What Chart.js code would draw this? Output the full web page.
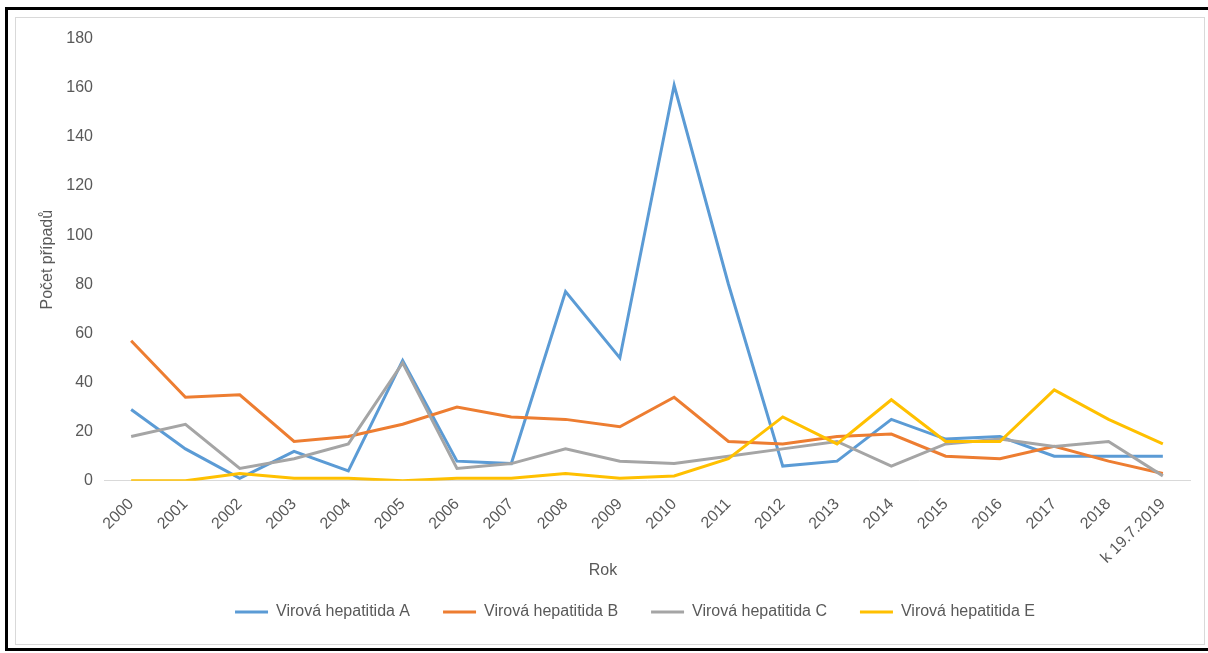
<!DOCTYPE html>
<html>
<head>
<meta charset="utf-8">
<script src="https://cdn.jsdelivr.net/npm/chart.js@4/dist/chart.umd.min.js"></script>
<style>
  html, body { margin: 0; padding: 0; background: #ffffff; }
  body { width: 1208px; height: 653px; position: relative; overflow: hidden; }
  #frame {
    position: absolute; left: 5px; top: 7px; width: 1210px; height: 638px;
    border: 3px solid #000000; box-sizing: content-box;
  }
  #panel {
    position: absolute; left: 15px; top: 17px; width: 1188px; height: 626px;
    border: 1px solid #d9d9d9; background: #ffffff;
  }
  #chart { display: block; }
</style>
</head>
<body>
<div id="frame"></div>
<div id="panel"><canvas id="chart" width="1188" height="626"></canvas></div>
<script>
// Reported cases of viral hepatitis per year
const years = ['2000', '2001', '2002', '2003', '2004', '2005', '2006', '2007', '2008', '2009',
               '2010', '2011', '2012', '2013', '2014', '2015', '2016', '2017', '2018', 'k 19.7.2019'];
const hepatitisA = [29, 13, 1, 12, 4, 49, 8, 7, 77, 50, 161, 80, 6, 8, 25, 17, 18, 10, 10, 10];
const hepatitisB = [57, 34, 35, 16, 18, 23, 30, 26, 25, 22, 34, 16, 15, 18, 19, 10, 9, 14, 8, 3];
const hepatitisC = [18, 23, 5, 9, 15, 48, 5, 7, 13, 8, 7, 10, 13, 16, 6, 15, 17, 14, 16, 2];
const hepatitisE = [0, 0, 3, 1, 1, 0, 1, 1, 3, 1, 2, 9, 26, 15, 33, 16, 16, 37, 25, 15];

const seriesNames = ['Virová hepatitida A', 'Virová hepatitida B', 'Virová hepatitida C', 'Virová hepatitida E'];
const seriesColors = ['#5b9bd5', '#ed7d31', '#a5a5a5', '#ffc000'];
const yTicks = [0, 20, 40, 60, 80, 100, 120, 140, 160, 180];

const textColor = '#595959';
const fontFamily = '"Liberation Sans", Arial, sans-serif';
const baseFont = { family: fontFamily, size: 16 };

function makeSeries(i, values) {
  return {
    label: seriesNames[i],
    data: values,
    borderColor: seriesColors[i],
    backgroundColor: seriesColors[i],
    borderWidth: 3,
    pointRadius: 0,
    pointHoverRadius: 0,
    tension: 0,
    fill: false,
    order: 4 - i   // later series are painted on top
  };
}

// Nudges the legend row a little to the left of the plot centre
const legendNudge = {
  id: 'legendNudge',
  afterLayout(chart) {
    const lg = chart.legend;
    if (lg) { lg.left -= 12; lg.right -= 12; }
  }
};

new Chart(document.getElementById('chart'), {
  type: 'line',
  data: {
    labels: years,
    datasets: [
      makeSeries(0, hepatitisA),
      makeSeries(1, hepatitisB),
      makeSeries(2, hepatitisC),
      makeSeries(3, hepatitisE)
    ]
  },
  plugins: [legendNudge],
  options: {
    responsive: false,
    animation: false,
    events: [],
    layout: { padding: { left: 0, right: 14, top: 19, bottom: 14 } },
    plugins: {
      tooltip: { enabled: false },
      title: {
        display: true,
        text: 'Rok',
        position: 'bottom',
        weight: 500,
        color: textColor,
        font: { family: fontFamily, size: 16, weight: 'normal' },
        padding: { top: -10, bottom: -9 }
      },
      legend: {
        position: 'bottom',
        fullSize: false,
        labels: {
          color: textColor,
          font: baseFont,
          boxWidth: 33,
          boxHeight: 3,
          padding: 33,
          sort: (a, b) => a.datasetIndex - b.datasetIndex,
          generateLabels(chart) {
            const items = Chart.defaults.plugins.legend.labels.generateLabels(chart);
            items.forEach(it => { it.lineWidth = 0; it.fillStyle = seriesColors[it.datasetIndex]; });
            return items;
          }
        }
      }
    },
    scales: {
      x: {
        offset: true,
        afterFit(scale) { scale.height = 90; },
        grid: { display: false, drawTicks: false },
        border: { display: true, color: '#d9d9d9', width: 1 },
        ticks: {
          color: textColor,
          font: baseFont,
          minRotation: 45,
          maxRotation: 45,
          autoSkip: false,
          padding: 14
        }
      },
      y: {
        min: 0,
        max: 180,
        afterBuildTicks(scale) { scale.ticks = yTicks.map(v => ({ value: v })); },
        afterFit(scale) { scale.width = 88; },
        grid: { display: false, drawTicks: false },
        border: { display: false },
        ticks: {
          color: textColor,
          font: baseFont,
          padding: 11
        },
        title: {
          display: true,
          text: 'Počet případů',
          color: textColor,
          font: baseFont,
          padding: { top: 22, bottom: 0 }
        }
      }
    }
  }
});
</script>
</body>
</html>
